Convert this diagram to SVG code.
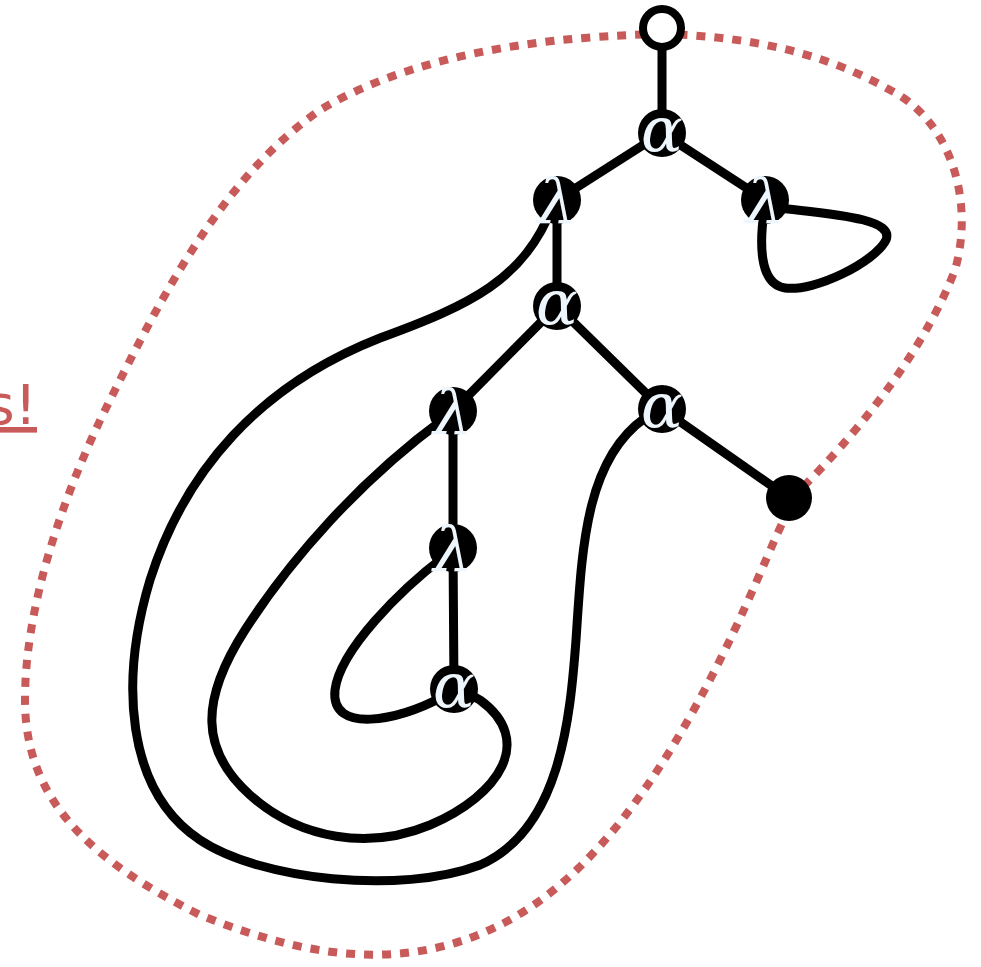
<svg xmlns="http://www.w3.org/2000/svg" width="981" height="967" viewBox="0 0 981 967">
<style>
.e{fill:none;stroke:#000;stroke-width:9;stroke-linecap:round}
.n{fill:#000}
.lb{fill:#eef6fd;font-family:"DejaVu Serif",serif;font-style:italic;font-size:62px;text-anchor:middle}
</style>
<rect width="981" height="967" fill="#fff"/>
<path d="M 662,34 C 560,36 420,50 320,110 C 220,180 160,300 110,400 C 60,500 25,610 25,700 C 25,800 90,860 200,915 C 300,955 400,975 500,925 C 590,880 660,780 720,660 C 760,580 780,520 800,490 C 850,440 920,360 955,270 C 975,200 950,120 890,90 C 820,50 740,36 662,34 Z" fill="none" stroke="#c85a5a" stroke-width="8" stroke-dasharray="9 9"/>
<text x="37" y="424" fill="#c85a5a" font-family="DejaVu Sans,sans-serif" font-size="56" text-anchor="end" text-decoration="underline">s!</text>
<g id="connectors">
<path class="e" d="M 662,28 L 662,133"/>
<path class="e" d="M 662,133 L 557,200"/>
<path class="e" d="M 662,133 L 765,200"/>
<path class="e" d="M 557,200 L 557,306"/>
<path class="e" d="M 557,306 L 453,411"/>
<path class="e" d="M 557,306 L 662,409"/>
<path class="e" d="M 662,409 L 789,498"/>
<path class="e" d="M 453,411 L 453,548"/>
<path class="e" d="M 453,548 L 454,689"/>
<path class="e" d="M 780,208 C 830,214 895,218 886,240 C 875,262 815,292 785,288 C 758,284 760,240 764,212"/>
<path class="e" d="M 553,205 C 525,280 470,305 380,338 C 260,385 185,470 150,580 C 120,680 125,790 200,840 C 260,880 400,895 480,865 C 560,830 570,720 576,640 C 582,550 585,460 645,418"/>
<path class="e" d="M 445,418 C 360,480 290,560 245,630 C 200,700 200,750 250,795 C 300,840 370,850 430,825 C 500,795 535,740 480,700 L 462,690"/>
<path class="e" d="M 445,556 C 400,590 340,650 335,690 C 330,735 400,720 440,698"/>
</g>
<g id="top"><circle cx="662" cy="28" r="19" fill="#fff" stroke="#000" stroke-width="8"/></g>
<g id="a1"><circle class="n" cx="662" cy="133" r="24"/><text class="lb" x="662" y="151">α</text></g>
<g id="l1"><circle class="n" cx="557" cy="200" r="24"/><text class="lb" x="557" y="223">λ</text></g>
<g id="l2"><circle class="n" cx="765" cy="200" r="24"/><text class="lb" x="765" y="223">λ</text></g>
<g id="a2"><circle class="n" cx="557" cy="306" r="24"/><text class="lb" x="557" y="324">α</text></g>
<g id="l3"><circle class="n" cx="453" cy="411" r="24"/><text class="lb" x="453" y="434">λ</text></g>
<g id="a3"><circle class="n" cx="662" cy="409" r="24"/><text class="lb" x="662" y="427">α</text></g>
<g id="l4"><circle class="n" cx="453" cy="548" r="24"/><text class="lb" x="453" y="571">λ</text></g>
<g id="a4"><circle class="n" cx="454" cy="689" r="24"/><text class="lb" x="454" y="707">α</text></g>
<g id="dot"><circle class="n" cx="789" cy="498" r="23"/></g>
</svg>
